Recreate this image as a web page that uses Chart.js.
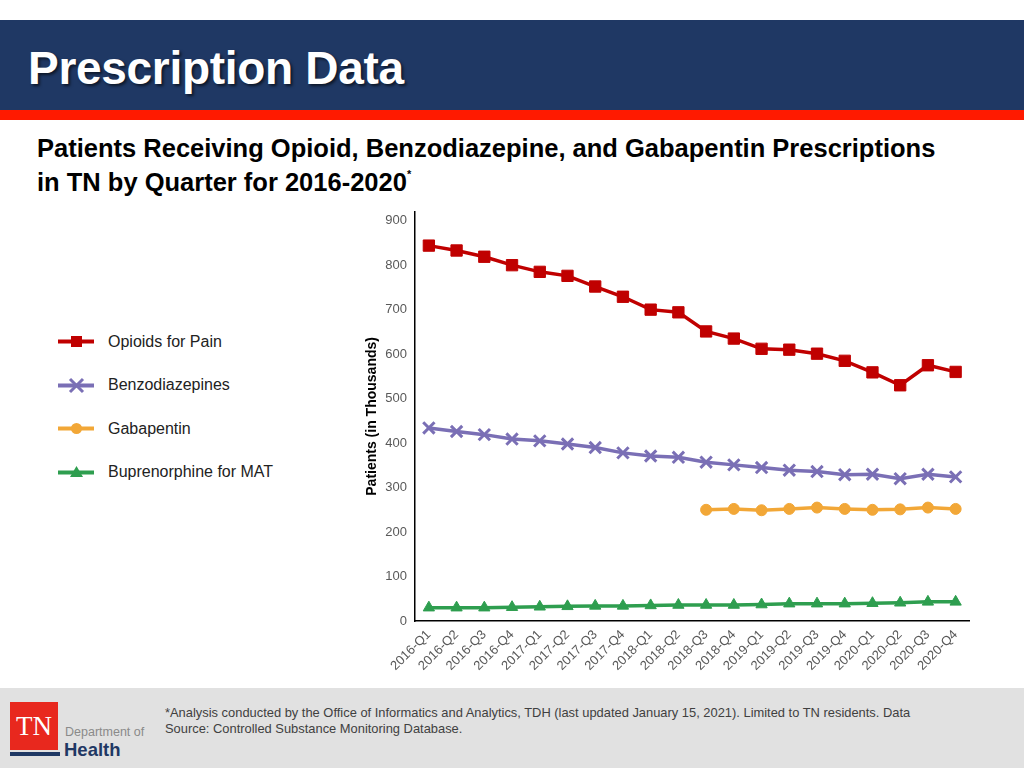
<!DOCTYPE html>
<html>
<head>
<meta charset="utf-8">
<script src="https://cdn.jsdelivr.net/npm/chart.js@4.4.1/dist/chart.umd.min.js"></script>
<style>
  body { margin: 0; width: 1024px; height: 768px; position: relative; overflow: hidden; background: #fff; font-family: "Liberation Sans", Arial, sans-serif; }
  #header { position: absolute; left: 0; top: 20px; width: 1024px; height: 90px; background: #1f3864; }
  #header h1 { margin: 0; position: absolute; left: 28px; top: 21px; color: #fff; font-size: 46px; line-height: 54px; font-weight: bold; text-shadow: 2px 2px 3px rgba(0,0,0,0.6); letter-spacing: -0.3px; }
  #redbar { position: absolute; left: 0; top: 110px; width: 1024px; height: 10px; background: #ff1a00; }
  #subtitle { position: absolute; left: 37px; top: 131px; font-size: 25.5px; font-weight: bold; line-height: 34px; color: #000; }
  #subtitle sup { font-size: 11px; line-height: 0; vertical-align: baseline; position: relative; top: -13px; }
  #legend { position: absolute; left: 58px; top: 320px; }
  .item { display: flex; align-items: center; height: 43.5px; font-size: 16px; color: #222; }
  .item svg { margin-right: 14px; }
  #chartBox { position: absolute; left: 356px; top: 200px; width: 628px; height: 480px; }
  #footer { position: absolute; left: 0; top: 688px; width: 1024px; height: 80px; background: #e1e1e1; }
  #note { position: absolute; left: 165px; top: 17px; font-size: 12.9px; line-height: 16px; color: #404040; width: 750px; }
  #logo { position: absolute; left: 10px; top: 14px; width: 48px; height: 48px; background: #e8281e; color: #fff; font-family: "Liberation Serif", serif; font-size: 27px; text-align: center; line-height: 48px; }
  #logobar { position: absolute; left: 10px; top: 64px; width: 50px; height: 4px; background: #1f3864; }
  #dept { position: absolute; left: 65px; top: 37px; font-size: 12.5px; color: #8a8a8a; }
  #health { position: absolute; left: 64px; top: 51px; font-size: 18.5px; font-weight: bold; color: #1f3864; }
</style>
</head>
<body>
<div id="header"><h1>Prescription Data</h1></div>
<div id="redbar"></div>
<div id="subtitle">Patients Receiving Opioid, Benzodiazepine, and Gabapentin Prescriptions<br>in TN by Quarter for 2016-2020<sup>*</sup></div>
<div id="legend"></div>
<div id="chartBox"><canvas id="chart"></canvas></div>
<div id="footer">
  <div id="logo">TN</div>
  <div id="logobar"></div>
  <div id="dept">Department of</div>
  <div id="health">Health</div>
  <div id="note">*Analysis conducted by the Office of Informatics and Analytics, TDH (last updated January 15, 2021). Limited to TN residents. Data Source: Controlled Substance Monitoring Database.</div>
</div>
<script>
const quarters = ['2016-Q1', '2016-Q2', '2016-Q3', '2016-Q4', '2017-Q1', '2017-Q2', '2017-Q3', '2017-Q4',
  '2018-Q1', '2018-Q2', '2018-Q3', '2018-Q4', '2019-Q1', '2019-Q2', '2019-Q3', '2019-Q4',
  '2020-Q1', '2020-Q2', '2020-Q3', '2020-Q4'];
const opioids = [844, 833, 819, 800, 785, 776, 752, 729, 700, 694, 651, 635, 612, 610, 601, 585, 559, 530, 575, 560];
const benzos = [434, 426, 419, 409, 405, 398, 390, 378, 371, 368, 357, 351, 345, 339, 336, 329, 330, 320, 330, 324];
const gabapentin = [null, null, null, null, null, null, null, null, null, null, 250, 252, 249, 252, 255, 252, 250, 251, 255, 252];
const buprenorphine = [30, 30, 30, 31, 32, 33, 34, 34, 35, 36, 36, 36, 37, 39, 39, 39, 40, 41, 43, 43];
const yTicks = [0, 100, 200, 300, 400, 500, 600, 700, 800, 900];

const series = [
  { label: 'Opioids for Pain', data: opioids, color: '#c00000', style: 'rect', r: 8 },
  { label: 'Benzodiazepines', data: benzos, color: '#7a6fb5', style: 'crossRot', r: 8 },
  { label: 'Gabapentin', data: gabapentin, color: '#f2a737', style: 'circle', r: 5.5 },
  { label: 'Buprenorphine for MAT', data: buprenorphine, color: '#2e9e4f', style: 'triangle', r: 6.5 }
];

// html legend: line with marker in the middle
const icons = {
  rect: c => `<rect x="13" y="4" width="11" height="11" fill="${c}"/>`,
  crossRot: c => `<path d="M12 3 L25 16 M25 3 L12 16" stroke="${c}" stroke-width="3"/>`,
  circle: c => `<circle cx="18.5" cy="9.5" r="5.5" fill="${c}"/>`,
  triangle: c => `<path d="M18.5 3 L25 14 L12 14 Z" fill="${c}"/>`
};
const legend = document.getElementById('legend');
series.forEach(s => {
  legend.innerHTML += `<div class="item"><svg width="36" height="19"><line x1="0" y1="9.5" x2="36" y2="9.5" stroke="${s.color}" stroke-width="4"/>${icons[s.style](s.color)}</svg>${s.label}</div>`;
});

const tickFont = { size: 13, family: 'Liberation Sans' };

new Chart(document.getElementById('chart'), {
  type: 'line',
  data: {
    labels: quarters,
    datasets: series.map(s => ({
      label: s.label,
      data: s.data,
      borderColor: s.color,
      backgroundColor: s.color,
      borderWidth: 3.5,
      pointStyle: s.style,
      pointRadius: s.r,
      pointBorderWidth: s.style === 'crossRot' ? 3 : 1,
      pointBorderColor: s.color,
      pointBackgroundColor: s.color,
      tension: 0,
      spanGaps: false
    }))
  },
  options: {
    responsive: true,
    maintainAspectRatio: false,
    animation: false,
    layout: { padding: { top: 5, right: 14.5, left: 7, bottom: 0 } },
    plugins: { legend: { display: false }, tooltip: { enabled: false } },
    scales: {
      x: {
        offset: true,
        afterFit: axis => { axis.height = 59; },
        grid: { display: false, drawTicks: true, tickLength: 4, tickColor: '#000' },
        border: { color: '#000', width: 1.5 },
        ticks: { autoSkip: false, maxRotation: 45, minRotation: 45, padding: 2, color: '#595959', font: tickFont }
      },
      y: {
        min: 0,
        max: 920,
        afterFit: axis => { axis.width = 52; },
        afterBuildTicks: axis => { axis.ticks = yTicks.map(v => ({ value: v })); },
        grid: { display: false, drawTicks: true, tickLength: 4, tickColor: '#000' },
        border: { color: '#000', width: 1.5 },
        ticks: { padding: 4, color: '#595959', font: tickFont },
        title: { display: true, text: 'Patients (in Thousands)', color: '#000', padding: 1, font: { size: 14, weight: 'bold', family: 'Liberation Sans' } }
      }
    }
  }
});
</script>
</body>
</html>
